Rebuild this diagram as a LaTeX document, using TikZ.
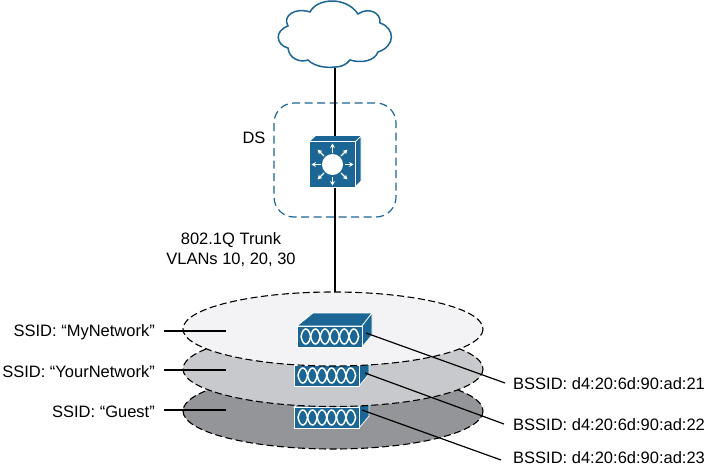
\documentclass[tikz,border=0pt]{standalone}
\usepackage{fontspec}
\setmainfont{Liberation Sans}
\usetikzlibrary{positioning,arrows.meta}
\definecolor{ciscoblue}{RGB}{27,102,148}
\definecolor{firstcell}{RGB}{243,243,246}
\definecolor{secondcell}{RGB}{200,201,204}
\definecolor{thirdcell}{RGB}{148,149,153}
\tikzset{
  cell/.style={draw=black,line width=1.1pt,dash pattern=on 7pt off 3.5pt},
  link/.style={draw=black,line width=1.4pt},
  thinlink/.style={draw=black,line width=1.2pt},
  label/.style={font=\fontsize{16.5}{20}\selectfont,inner sep=0pt},
  front/.style={fill=ciscoblue,draw=white,line width=0.7pt}
}
% access point, origin at the top left corner of its front
\newcommand{\accesspoint}[3]{
  \begin{scope}[shift={(#1,#2)}]
    \fill[ciscoblue,draw=white,line width=0.7pt] (0,0) -- (16,-13) -- (75,-13) -- (65,0) -- cycle;
    \fill[ciscoblue,draw=white,line width=0.7pt] (65,0) -- (75,-13) -- (75,9) -- (65,21) -- cycle;
    \node[front,minimum width=65pt,minimum height=21pt,anchor=north west,inner sep=0pt] (#3) at (0,0) {};
    \foreach \k in {0,...,5}
      \draw[white,line width=1.5pt] (4+\k*9.6,10.5) .. controls (6+\k*9.6,0.5) and (11.6+\k*9.6,0.5) .. (13.6+\k*9.6,10.5)
        .. controls (11.6+\k*9.6,20.5) and (6+\k*9.6,20.5) .. (4+\k*9.6,10.5);
  \end{scope}
}
\begin{document}
\begin{tikzpicture}[x=1pt,y=-1pt]
  \useasboundingbox (0,0) rectangle (706,466);

  % cloud
  \path[draw=ciscoblue,fill=white,line width=1.5pt] (335,67)
    .. controls (327,68) and (315,67) .. (308,60)
    .. controls (299,63) and (289,58) .. (288,48)
    .. controls (276,45) and (274,31) .. (288,26)
    .. controls (282,16) and (295,7) .. (310,12)
    .. controls (317,-2) and (346,-4) .. (358,14)
    .. controls (368,7) and (381,12) .. (380,23)
    .. controls (395,28) and (396,46) .. (378,52)
    .. controls (374,62) and (360,63) .. (350,60)
    .. controls (346,65) and (341,67) .. (335,67) -- cycle;
  \coordinate (cloud) at (335,67.5);

  % distribution system
  \draw[ciscoblue,line width=1.2pt,dash pattern=on 8pt off 4.5pt,rounded corners=20pt] (274,103) rectangle (396,217);
  \node[label] (ds) at (254,138) {DS};
  \coordinate (top) at (335,293);
  \draw[link] (cloud) -- (top);

  % switch
  \fill[ciscoblue] (309.5,142) -- (316,136) -- (361,136) -- (355,142) -- cycle;
  \fill[ciscoblue,draw=white,line width=0.7pt] (355,142) -- (361,136) -- (361,181) -- (355,187) -- cycle;
  \node[front,minimum size=46pt,inner sep=0pt] (switch) at (332.5,164.5) {};
  \fill[white] (switch.center) circle (10.5);
  \foreach \a in {0,45,...,315}
    \draw[white,line width=1.2pt,-{Stealth[length=4.5pt,width=5pt]}] (switch.center) ++(\a:12) -- ++(\a:9);

  \node[label,align=center] (trunk) at (231,250) {802.1Q Trunk\\VLANs 10, 20, 30};

  % cells, from the lowest to the highest
  \draw[cell,fill=thirdcell] (333,411) ellipse (150 and 38);
  \accesspoint{294}{407}{apthree}
  \draw[cell,fill=secondcell] (333,369) ellipse (150 and 37.5);
  \accesspoint{294}{365}{aptwo}
  \draw[cell,fill=firstcell] (333,329) ellipse (150 and 37);
  \accesspoint{297}{326}{apone}

  % ssid labels
  \node[label,anchor=east] (ssidone) at (155,332) {SSID: “MyNetwork”};
  \node[label,anchor=east] (ssidtwo) at (155,372) {SSID: “YourNetwork”};
  \node[label,anchor=east] (ssidthree) at (155,412) {SSID: “Guest”};
  \coordinate (cellone) at (226,331);
  \coordinate (celltwo) at (226,370);
  \coordinate (cellthree) at (226,410);
  \coordinate (ssidoneend) at (164,331);
  \coordinate (ssidtwoend) at (164,370);
  \coordinate (ssidthreeend) at (164,410);
  \draw[thinlink] (ssidoneend) -- (cellone);
  \draw[thinlink] (ssidtwoend) -- (celltwo);
  \draw[thinlink] (ssidthreeend) -- (cellthree);

  % bssid labels
  \node[label,anchor=west] (bssidone) at (513,384) {BSSID: d4:20:6d:90:ad:21};
  \node[label,anchor=west] (bssidtwo) at (513,425) {BSSID: d4:20:6d:90:ad:22};
  \node[label,anchor=west] (bssidthree) at (513,457.5) {BSSID: d4:20:6d:90:ad:23};
  \coordinate (apport1) at (366,333);
  \coordinate (apport2) at (365,373);
  \coordinate (apport3) at (362,410);
  \coordinate (bssidend1) at (505,383);
  \coordinate (bssidend2) at (504,424);
  \coordinate (bssidend3) at (501,460);
  \draw[thinlink] (apport1) -- (bssidend1);
  \draw[thinlink] (apport2) -- (bssidend2);
  \draw[thinlink] (apport3) -- (bssidend3);
\end{tikzpicture}
\end{document}
